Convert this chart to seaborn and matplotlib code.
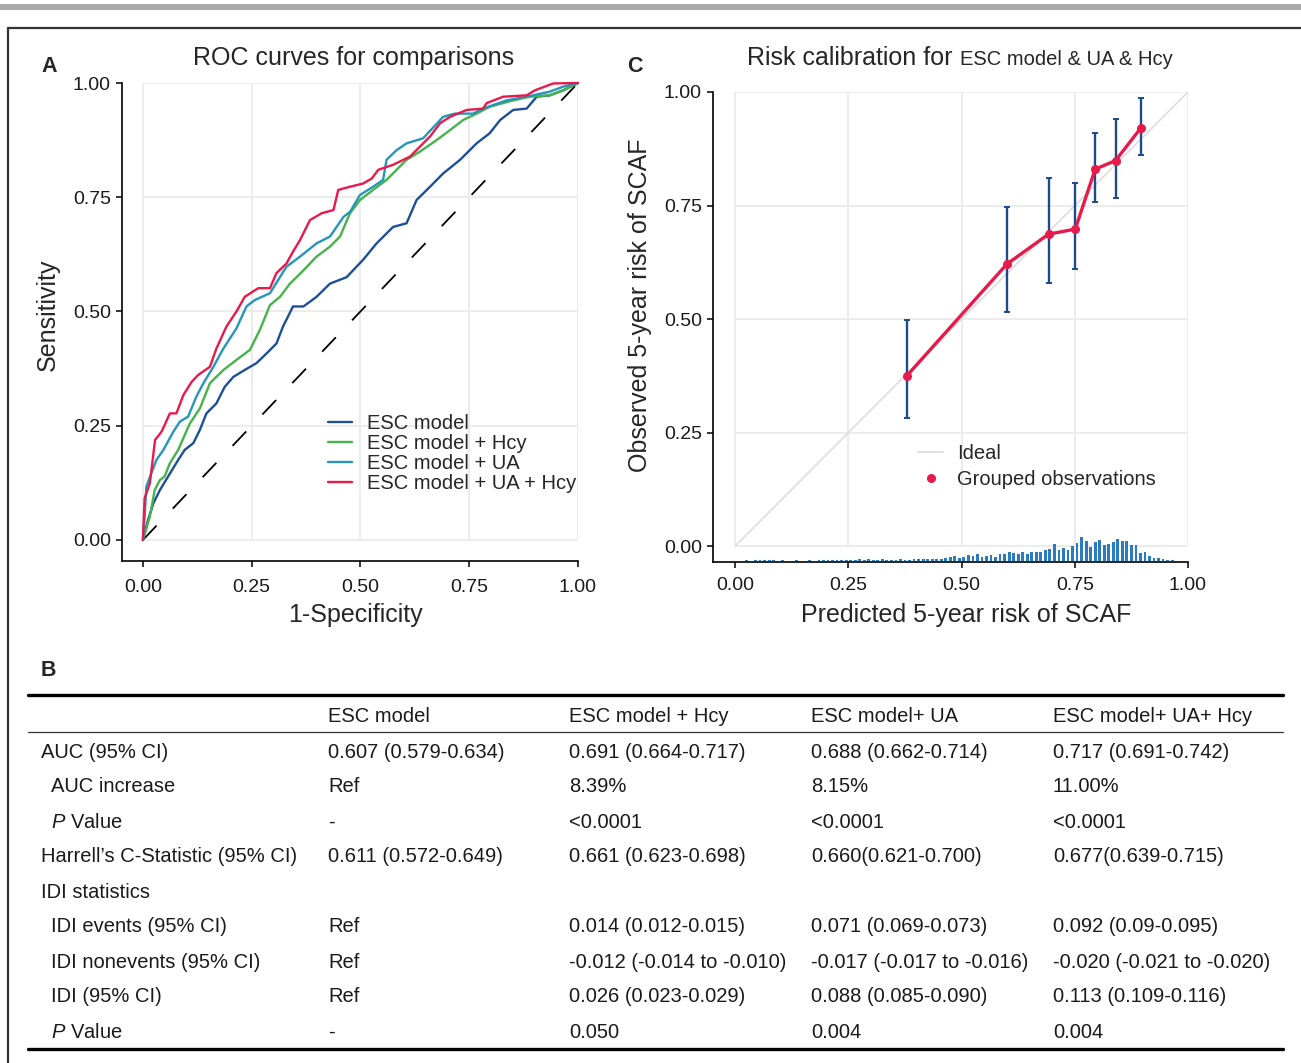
import matplotlib
matplotlib.use("Agg")
import matplotlib.pyplot as plt
from matplotlib.lines import Line2D
from matplotlib.patches import Rectangle
import numpy as np
import pandas as pd
import seaborn as sns

# ---- panel A: ROC curves (1-specificity, sensitivity)
esc_fpr = [0, 0.012, 0.024, 0.039, 0.058, 0.081, 0.096, 0.116, 0.131, 0.146, 0.169, 0.188, 0.208,
           0.234, 0.261, 0.284, 0.307, 0.322, 0.345, 0.369, 0.399, 0.430, 0.468, 0.506, 0.537,
           0.575, 0.606, 0.629, 0.660, 0.690, 0.729, 0.767, 0.797, 0.821, 0.851, 0.882, 0.905,
           0.935, 0.966, 1.0]
esc_tpr = [0, 0.044, 0.080, 0.109, 0.139, 0.175, 0.197, 0.212, 0.241, 0.277, 0.299, 0.335, 0.357,
           0.372, 0.387, 0.408, 0.430, 0.467, 0.511, 0.511, 0.532, 0.561, 0.575, 0.613, 0.649,
           0.685, 0.693, 0.744, 0.773, 0.802, 0.832, 0.868, 0.890, 0.919, 0.941, 0.944, 0.970,
           0.973, 0.984, 1.0]
hcy_fpr = [0, 0.016, 0.027, 0.039, 0.050, 0.062, 0.081, 0.093, 0.108, 0.131, 0.154, 0.185, 0.215,
           0.246, 0.269, 0.292, 0.315, 0.338, 0.369, 0.399, 0.430, 0.453, 0.476, 0.499, 0.529,
           0.560, 0.583, 0.606, 0.637, 0.675, 0.706, 0.736, 0.767, 0.797, 0.851, 0.889, 0.935,
           0.966, 1.0]
hcy_tpr = [0, 0.051, 0.109, 0.131, 0.139, 0.168, 0.197, 0.223, 0.255, 0.288, 0.343, 0.372, 0.394,
           0.416, 0.460, 0.514, 0.532, 0.561, 0.590, 0.620, 0.642, 0.664, 0.715, 0.744, 0.766,
           0.788, 0.810, 0.832, 0.850, 0.875, 0.897, 0.919, 0.933, 0.948, 0.962, 0.970, 0.973,
           0.984, 1.0]
ua_fpr = [0, 0.004, 0.008, 0.031, 0.047, 0.070, 0.085, 0.104, 0.123, 0.139, 0.162, 0.185, 0.215,
          0.238, 0.257, 0.292, 0.311, 0.330, 0.361, 0.399, 0.430, 0.461, 0.476, 0.499, 0.529,
          0.552, 0.560, 0.583, 0.606, 0.644, 0.690, 0.717, 0.759, 0.782, 0.836, 0.882, 0.935,
          0.966, 1.0]
ua_tpr = [0, 0.051, 0.117, 0.175, 0.197, 0.237, 0.259, 0.270, 0.314, 0.343, 0.379, 0.419, 0.463,
          0.511, 0.525, 0.540, 0.569, 0.598, 0.620, 0.649, 0.664, 0.707, 0.718, 0.755, 0.773,
          0.788, 0.832, 0.853, 0.868, 0.879, 0.926, 0.933, 0.933, 0.944, 0.962, 0.970, 0.981,
          0.992, 1.0]
uahcy_fpr = [0, 0.004, 0.016, 0.028, 0.043, 0.062, 0.077, 0.093, 0.112, 0.127, 0.154, 0.169, 0.192,
             0.215, 0.234, 0.265, 0.292, 0.307, 0.330, 0.345, 0.361, 0.384, 0.411, 0.438, 0.449,
             0.476, 0.506, 0.526, 0.541, 0.575, 0.614, 0.637, 0.660, 0.683, 0.706, 0.744, 0.782,
             0.790, 0.828, 0.882, 0.901, 0.943, 1.0]
uahcy_tpr = [0, 0.091, 0.124, 0.219, 0.237, 0.277, 0.277, 0.317, 0.346, 0.361, 0.379, 0.419, 0.467,
             0.500, 0.532, 0.551, 0.551, 0.584, 0.605, 0.631, 0.656, 0.700, 0.715, 0.722, 0.766,
             0.773, 0.780, 0.791, 0.810, 0.821, 0.839, 0.861, 0.883, 0.912, 0.926, 0.941, 0.944,
             0.956, 0.970, 0.973, 0.984, 0.999, 1.0]

roc_labels = ["ESC model", "ESC model + Hcy", "ESC model + UA", "ESC model + UA + Hcy"]
roc_colors = ["#1d4f98", "#45b34a", "#2596b8", "#e8194b"]

# ---- panel C: calibration groups
cal_pred = [0.379, 0.600, 0.692, 0.751, 0.795, 0.840, 0.896]
cal_obs = [0.375, 0.621, 0.687, 0.698, 0.830, 0.849, 0.921]
cal_lo = [0.282, 0.516, 0.580, 0.610, 0.757, 0.766, 0.861]
cal_hi = [0.499, 0.747, 0.811, 0.799, 0.910, 0.941, 0.986]

# distribution of predicted risk (bins of 0.01 from 0 to 1, relative counts)
hist_counts = [0, 0, 2, 0, 2, 2, 2, 3, 2, 0,
               2, 0, 0, 2, 0, 0, 2, 0, 2, 2,
               3, 3, 2, 4, 3, 3, 2, 5, 3, 7,
               4, 2, 6, 4, 3, 2, 5, 4, 4, 5,
               5, 6, 6, 5, 7, 6, 9, 12, 14, 10,
               13, 18, 14, 20, 13, 16, 18, 12, 22, 20,
               26, 24, 20, 26, 22, 28, 26, 27, 34, 36,
               50, 32, 38, 34, 44, 54, 72, 58, 42, 56,
               62, 48, 50, 56, 66, 60, 60, 48, 46, 24,
               28, 15, 8, 10, 6, 3, 3, 0, 0, 0]

ticks = [0, 0.25, 0.5, 0.75, 1.0]
tick_labels = ["0.00", "0.25", "0.50", "0.75", "1.00"]

# ---- panel B: table
col_headers = ["ESC model", "ESC model + Hcy", "ESC model+ UA", "ESC model+ UA+ Hcy"]
row_labels = ["AUC (95% CI)", "AUC increase", r"$\mathit{P}$ Value",
              "Harrell\u2019s C-Statistic (95% CI)", "IDI statistics", "IDI events (95% CI)",
              "IDI nonevents (95% CI)", "IDI (95% CI)", r"$\mathit{P}$ Value"]
row_indent = [0, 1, 1, 0, 0, 1, 1, 1, 1]
col_esc = ["0.607 (0.579-0.634)", "Ref", "-", "0.611 (0.572-0.649)", "", "Ref", "Ref", "Ref", "-"]
col_hcy = ["0.691 (0.664-0.717)", "8.39%", "<0.0001", "0.661 (0.623-0.698)", "",
           "0.014 (0.012-0.015)", "-0.012 (-0.014 to -0.010)", "0.026 (0.023-0.029)", "0.050"]
col_ua = ["0.688 (0.662-0.714)", "8.15%", "<0.0001", "0.660(0.621-0.700)", "",
          "0.071 (0.069-0.073)", "-0.017 (-0.017 to -0.016)", "0.088 (0.085-0.090)", "0.004"]
col_uahcy = ["0.717 (0.691-0.742)", "11.00%", "<0.0001", "0.677(0.639-0.715)", "",
             "0.092 (0.09-0.095)", "-0.020 (-0.021 to -0.020)", "0.113 (0.109-0.116)", "0.004"]

sns.set_theme(style="ticks")
plt.rcParams["font.family"] = ["Liberation Sans", "DejaVu Sans"]
plt.rcParams["mathtext.fontset"] = "custom"
plt.rcParams["mathtext.rm"] = "Liberation Sans"
plt.rcParams["mathtext.it"] = "Liberation Sans:italic"

W, H = 1301, 1063
fig = plt.figure(figsize=(W / 100, H / 100), dpi=100)
fig.patch.set_facecolor("white")


def fx(px):
    return px / W


def fy(py):
    return 1 - py / H


# page decoration: grey band and frame
fig.add_artist(Rectangle((0, fy(10)), 1, fy(4) - fy(10), transform=fig.transFigure,
                         color="#a9a9a9", lw=0))
fig.add_artist(Line2D([fx(8), 1], [fy(28), fy(28)], color="#333333", lw=1.6))
fig.add_artist(Line2D([fx(8), fx(8)], [fy(28), 0], color="#333333", lw=1.6))


def style_axes(ax, xpad):
    ax.set_facecolor("none")
    ax.set_xticks(ticks)
    ax.set_yticks(ticks)
    ax.set_xticklabels(tick_labels)
    ax.set_yticklabels(tick_labels)
    for s in ["top", "right"]:
        ax.spines[s].set_visible(False)
    for s in ["left", "bottom"]:
        ax.spines[s].set_color("black")
        ax.spines[s].set_linewidth(1.2)
    ax.tick_params(direction="out", length=4, width=1.1, color="black",
                   labelsize=14, labelcolor="#1a1a1a")
    ax.tick_params(axis="x", pad=xpad)
    ax.tick_params(axis="y", pad=4)
    # panel grid only over the data range
    ax.hlines(ticks, 0, 1, color="#ebebeb", lw=1.3, zorder=0)
    ax.vlines(ticks, 0, 1, color="#ebebeb", lw=1.3, zorder=0)


# ================= A =================
axA = fig.add_axes([fx(122), fy(561), fx(578) - fx(122), fy(83) - fy(561)])
axA.set_xlim(-0.048, 1.0)
axA.set_ylim(-0.046, 1.0)
style_axes(axA, 9)

axA.plot([0, 1], [0, 1], color="black", lw=1.3, ls=(0, (11, 13)), zorder=1)

roc = pd.concat([
    pd.DataFrame({"fpr": esc_fpr, "tpr": esc_tpr, "model": roc_labels[0]}),
    pd.DataFrame({"fpr": hcy_fpr, "tpr": hcy_tpr, "model": roc_labels[1]}),
    pd.DataFrame({"fpr": ua_fpr, "tpr": ua_tpr, "model": roc_labels[2]}),
    pd.DataFrame({"fpr": uahcy_fpr, "tpr": uahcy_tpr, "model": roc_labels[3]}),
], ignore_index=True)
sns.lineplot(data=roc, x="fpr", y="tpr", hue="model", hue_order=roc_labels,
             palette=roc_colors, estimator=None, sort=False,
             lw=1.7, legend=False, ax=axA, clip_on=False, zorder=2)

handles = [Line2D([], [], color=c, lw=1.7) for c in roc_colors]
axA.legend(handles, roc_labels, loc="upper left", bbox_to_anchor=(0.425, 0.276),
           bbox_transform=axA.transData, frameon=False, fontsize=14.5,
           handlelength=1.2, handletextpad=0.75, labelspacing=0.05,
           borderpad=0, borderaxespad=0)

axA.set_xlabel("1-Specificity", fontsize=18)
axA.set_ylabel("Sensitivity", fontsize=18)
axA.xaxis.set_label_coords(0.511, -0.088)
axA.yaxis.set_label_coords(-0.136, 0.515)

# ================= C =================
axC = fig.add_axes([fx(713), fy(562), fx(1188) - fx(713), fy(92) - fy(562)])
axC.set_xlim(-0.049, 1.0)
axC.set_ylim(-0.035, 1.0)
style_axes(axC, 7)

axC.plot([0, 1], [0, 1], color="#dddddd", lw=1.2, zorder=1)

counts = np.array(hist_counts, dtype=float)
bin_centers = np.arange(len(counts)) * 0.01 + 0.005
axC.bar(bin_centers, counts / counts.max() * 0.054, bottom=-0.033, width=0.0062,
        color="#2b7bc0", lw=0, zorder=2)

obs = np.array(cal_obs)
axC.errorbar(cal_pred, cal_obs, yerr=[obs - np.array(cal_lo), np.array(cal_hi) - obs],
             fmt="none", ecolor="#1c4a8a", elinewidth=1.7, capsize=2, capthick=1.4, zorder=3)
sns.lineplot(x=cal_pred, y=cal_obs, color="#e8194b", lw=2.4, marker="o", markersize=6.5,
             markeredgewidth=0, estimator=None, sort=False, ax=axC, zorder=4)

hC = [Line2D([], [], color="#dddddd", lw=1.3),
      Line2D([], [], color="#e8194b", marker="o", ls="none", markersize=6.5, markeredgewidth=0)]
axC.legend(hC, ["Ideal", "Grouped observations"], loc="upper left",
           bbox_to_anchor=(0.404, 0.225), bbox_transform=axC.transData, frameon=False,
           fontsize=14.5, handlelength=1.25, handletextpad=0.7, labelspacing=0.35,
           borderpad=0, borderaxespad=0)

axC.set_xlabel("Predicted 5-year risk of SCAF", fontsize=18)
axC.set_ylabel("Observed 5-year risk of SCAF", fontsize=18)
axC.xaxis.set_label_coords(0.533, -0.087)
axC.yaxis.set_label_coords(-0.128, 0.547)

# ---- titles and panel letters
fig.text(fx(354), fy(65), "ROC curves for comparisons", ha="center", va="baseline", fontsize=18)
fig.text(fx(747), fy(65), "Risk calibration for", ha="left", va="baseline", fontsize=18)
fig.text(fx(960), fy(65), "ESC model & UA & Hcy", ha="left", va="baseline", fontsize=14.5)
fig.text(fx(41), fy(66), "A", ha="left", va="center", fontsize=15.5, weight="bold")
fig.text(fx(627), fy(66), "C", ha="left", va="center", fontsize=15.5, weight="bold")
fig.text(fx(41), fy(670), "B", ha="left", va="center", fontsize=15.5, weight="bold")

# ================= B: table =================
tx0, tx1 = fx(28), fx(1283)
fig.add_artist(Line2D([tx0, tx1], [fy(695), fy(695)], color="black", lw=2.4))
fig.add_artist(Line2D([tx0, tx1], [fy(732), fy(732)], color="#333333", lw=0.9))
fig.add_artist(Line2D([tx0, tx1], [fy(1049), fy(1049)], color="black", lw=2.4))

col_x = [328, 569, 811, 1053]
for x, h in zip(col_x, col_headers):
    fig.text(fx(x), fy(716), h, ha="left", va="center", fontsize=14.5, color="#1a1a1a")

row_y = [752 + 35 * i for i in range(len(row_labels))]
cols = [col_esc, col_hcy, col_ua, col_uahcy]
for i, (lab, ind) in enumerate(zip(row_labels, row_indent)):
    y = fy(row_y[i])
    fig.text(fx(51 if ind else 41), y, lab, ha="left", va="center", fontsize=14.5, color="#1a1a1a")
    for x, col in zip(col_x, cols):
        fig.text(fx(x), y, col[i], ha="left", va="center", fontsize=14.5, color="#1a1a1a")

fig.savefig("out.png", dpi=100)
